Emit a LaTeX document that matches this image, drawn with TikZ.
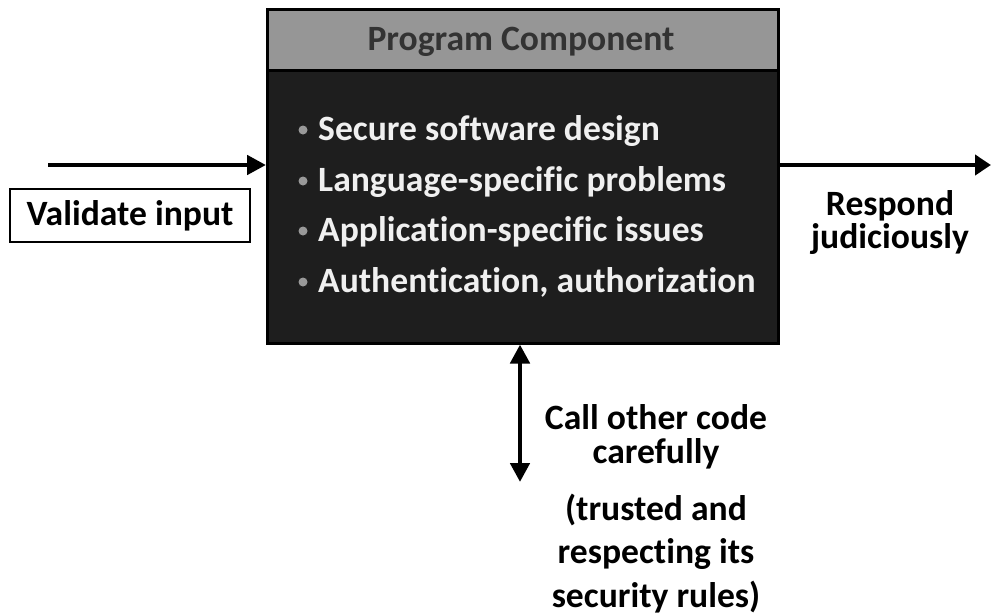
\documentclass[tikz,border=0pt]{standalone}
\usepackage{fontspec}
\setmainfont[Ligatures={NoCommon}]{Carlito}
\usetikzlibrary{arrows.meta}
\definecolor{hdrgray}{HTML}{969696}
\definecolor{bodyblk}{HTML}{1E1E1E}
\definecolor{hdrtext}{HTML}{333333}
\definecolor{bodytext}{HTML}{F0F0F0}
\definecolor{bulgray}{HTML}{999999}
\tikzset{
  x=1pt, y=-1pt,
  lbl/.style={font=\fontsize{35.6}{42}\selectfont\bfseries, inner sep=0pt},
  bodylbl/.style={lbl, text=bodytext, anchor=base west},
  arr/.style={line width=4.7pt, -{Triangle[length=19pt,width=19pt]}},
  dblarr/.style={line width=4.7pt, {Triangle[length=19pt,width=19pt]}-{Triangle[length=19pt,width=19pt]}},
  outarr/.style={line width=4.7pt, -{Triangle[length=16pt,width=20pt]}},
}
\begin{document}
\begin{tikzpicture}
\useasboundingbox (0,0) rectangle (991,616);
% component box
\node[draw=black, line width=2.5pt, fill=bodyblk, minimum width=511pt, minimum height=334pt, anchor=north west, inner sep=0pt] (comp) at (266,8) {};
\node[draw=black, line width=2.5pt, fill=hdrgray, minimum width=511pt, minimum height=61pt, anchor=north west, inner sep=0pt] (hdr) at (266,8) {};
\node[lbl, text=hdrtext, anchor=base] (hdrtxt) at (521,50) {Program Component};
% bullets
\foreach \yy/\t [count=\i] in {140/Secure software design, 191/Language-specific problems, 241/Application-specific issues, 292/Authentication{,} authorization}{
  \fill[bulgray] (303,\yy-10) circle (4.5pt);
  \node[bodylbl] (b\i) at (318,\yy) {\t};
}
% input
\coordinate (inStart) at (48,165);
\draw[arr] (inStart) -- (comp.west |- inStart);
\node[draw=black, line width=2.2pt, minimum width=240pt, minimum height=53pt, inner sep=0pt, lbl] (valid) at (130,215.5) {Validate input};
% output
\coordinate (outEnd) at (991,165);
\draw[outarr] (comp.east |- outEnd) -- (outEnd);
\node[lbl, anchor=base] (resp1) at (890,215) {Respond};
\node[lbl, anchor=base] (resp2) at (890,248) {judiciously};
% call
\coordinate (callEnd) at (520,482);
\draw[dblarr] (comp.south -| callEnd) -- (callEnd);
\node[lbl, anchor=base] (c1) at (656,429) {Call other code};
\node[lbl, anchor=base] (c2) at (656,463) {carefully};
\node[lbl, anchor=base] (c3) at (656,520) {(trusted and};
\node[lbl, anchor=base] (c4) at (656,563) {respecting its};
\node[lbl, anchor=base] (c5) at (656,607) {security rules)};
\end{tikzpicture}
\end{document}
